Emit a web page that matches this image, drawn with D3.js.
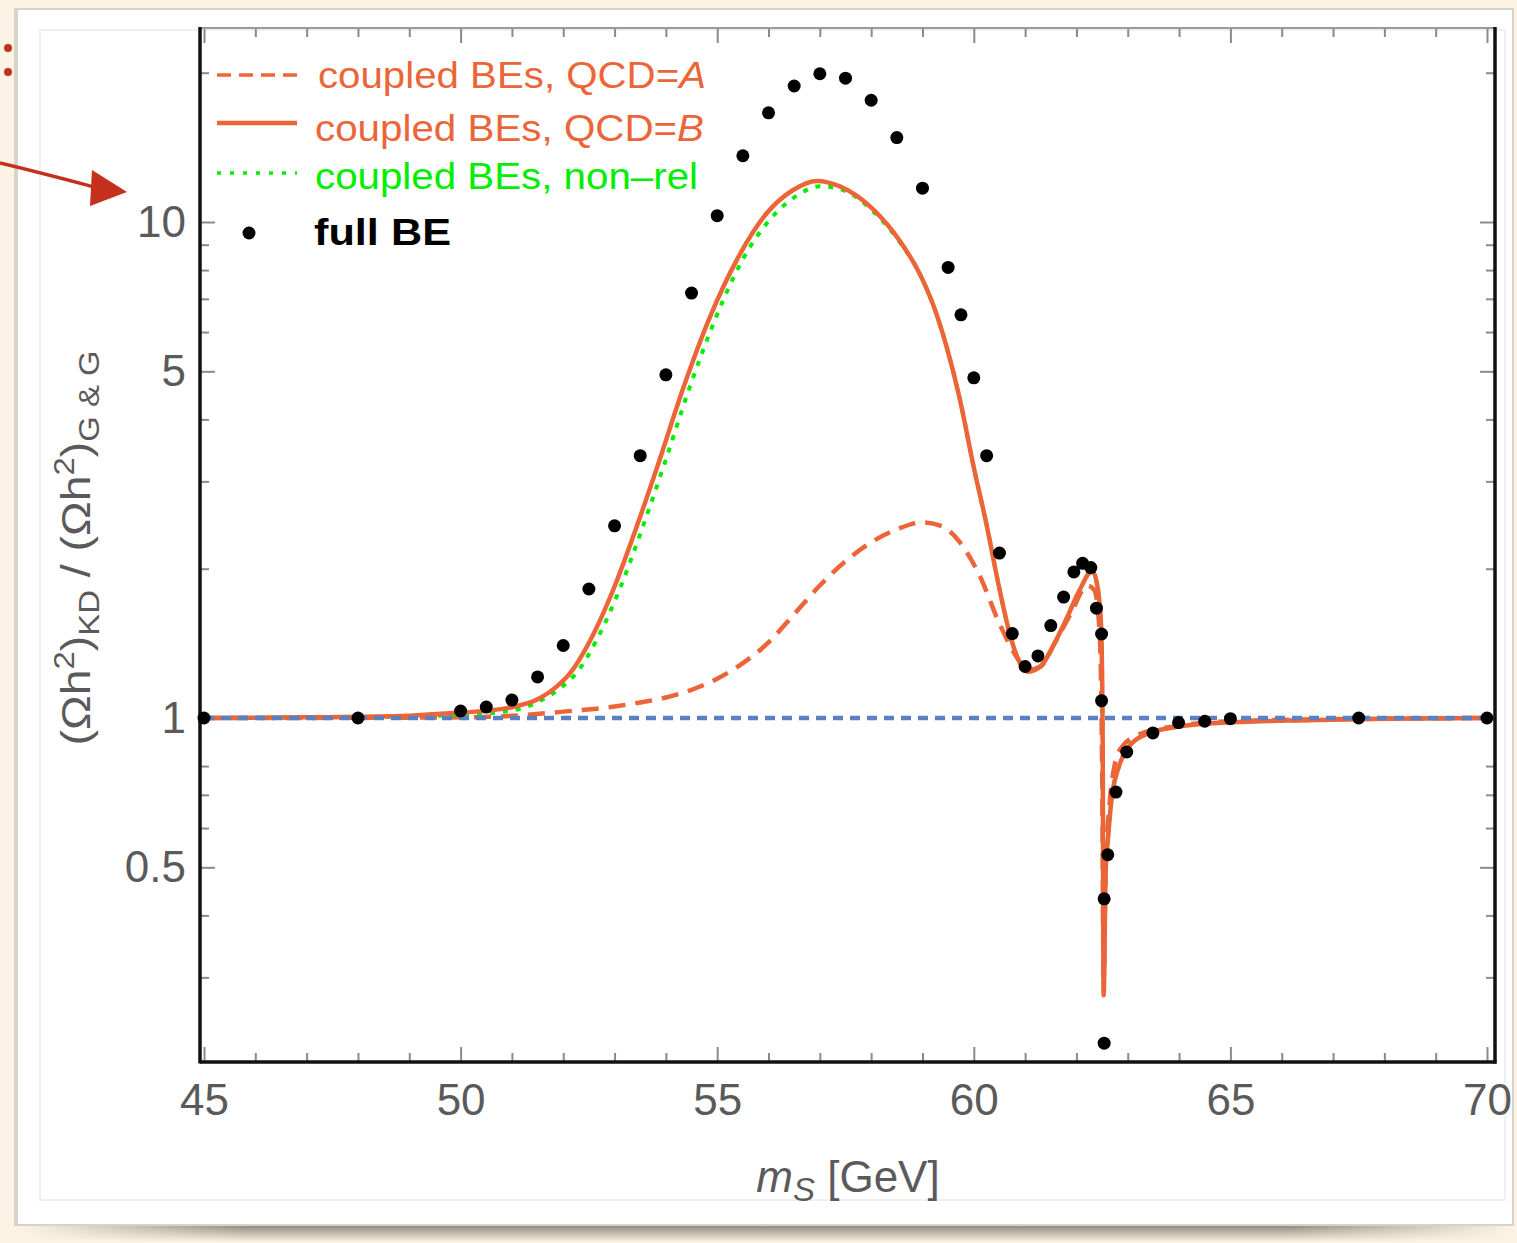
<!DOCTYPE html>
<html><head><meta charset="utf-8">
<script src="https://cdn.jsdelivr.net/npm/d3@7"></script>
<style>
html,body{margin:0;padding:0;background:#fcf3e4;}
svg{display:block;font-family:"Liberation Sans",Arial,Helvetica,sans-serif;}
</style></head>
<body><svg id="chart" width="1517" height="1243"></svg>
<script>
// ---------- data ----------
const dotMass  = [45,48,50,50.5,51,51.5,52,52.5,53,53.5,54,54.5,55,55.5,56,56.5,57,57.5,58,58.5,59,59.5,59.75,60,60.25,60.5,60.75,61,61.25,61.5,61.75,61.95,62.12,62.28,62.39,62.49,62.49,62.61,62.54,62.54,62.77,62.98,63.49,63.99,64.5,65,67.5,70];
const dotRatio = [1.0,1.0,1.033,1.052,1.087,1.21,1.40,1.82,2.44,3.38,4.92,7.19,10.3,13.6,16.6,18.8,19.9,19.5,17.6,14.8,11.7,8.1,6.5,4.85,3.38,2.15,1.48,1.27,1.334,1.536,1.753,1.97,2.05,2.01,1.665,1.477,1.084,0.530,0.432,0.221,0.709,0.854,0.933,0.979,0.985,0.997,1.0,1.0];

const massA  = [45,48,50,51,52,53,53.5,54,54.5,55,55.5,56,56.5,57,57.5,58,58.5,59,59.4,59.7,60.1,60.5,60.85,61.05,61.3,61.6,61.9,62.21,62.35,62.45,62.5,62.53,62.57,62.65,62.74,62.87,63.26,64,65,67,70];
const ratioA = [1.0,1.001,1.003,1.01,1.03,1.055,1.075,1.1,1.14,1.2,1.29,1.42,1.62,1.85,2.07,2.26,2.4,2.48,2.43,2.28,1.95,1.55,1.32,1.25,1.27,1.43,1.63,1.85,1.81,1.5,0.8,0.3,0.5,0.68,0.8,0.87,0.93,0.965,0.985,0.995,1.0];

const massB  = [45,47,49,49.6,50.3,50.9,51.55,51.87,52.13,52.52,52.98,53.43,53.85,54.33,54.86,55.38,55.96,56.48,56.94,57.39,58.04,58.56,58.95,59.21,59.47,59.73,60.0,60.25,60.5,60.73,60.9,61.05,61.3,61.55,61.8,62.05,62.31,62.41,62.48,62.51,62.53,62.57,62.62,62.68,62.83,63.0,63.39,63.97,65,66.5,68,70];
const ratioB = [1.0,1.003,1.01,1.02,1.03,1.047,1.097,1.157,1.23,1.43,1.82,2.43,3.25,4.6,6.44,8.38,10.4,11.6,12.1,11.8,10.6,9.15,7.85,6.8,5.6,4.38,3.2,2.45,1.82,1.44,1.29,1.24,1.27,1.4,1.58,1.8,1.98,1.84,1.54,0.95,0.276,0.49,0.58,0.68,0.8,0.87,0.93,0.96,0.98,0.99,0.997,1.0];

const massNR  = [45,47,49,50,51,51.65,51.98,52.25,52.64,53.1,53.55,53.97,54.45,54.98,55.49,56.06,56.55,57.0,57.45,58.04,58.56,58.95,59.21,59.47,59.73,60.0,60.25,60.5,60.73,60.9,61.05,61.3,61.55,61.8,62.05,62.31,62.41,62.48,62.51,62.53,62.57,62.62,62.68,62.83,63.0,63.39,63.97,65,66.5,68,70];
const ratioNR = [1.0,1.003,1.008,1.015,1.035,1.097,1.157,1.23,1.43,1.82,2.43,3.25,4.6,6.44,8.38,10.2,11.3,11.8,11.6,10.5,9.1,7.85,6.8,5.6,4.38,3.2,2.45,1.82,1.44,1.29,1.24,1.27,1.4,1.58,1.8,1.97,1.84,1.54,0.95,0.28,0.49,0.58,0.68,0.8,0.87,0.93,0.96,0.98,0.99,0.997,1.0];

const refMass  = [45,70];
const refRatio = [1,1];

const xMajorTicks = [45,50,55,60,65,70];
const xMinorTicks = [46,47,48,49,51,52,53,54,56,57,58,59,61,62,63,64,66,67,68,69];
const yMajorTicks = [0.5,1,5,10];
const yMinorTicks = [0.3,0.4,0.6,0.7,0.8,2,3,4,6,7,8,9,20];

const legendLabels = ["coupled BEs, QCD=", "coupled BEs, QCD=", "coupled BEs, non\u2013rel", "full BE"];
const legendItalic = ["A","B","",""];

// ---------- styles ----------
const ORANGE = "#ec6538", GREEN = "#00ee00", BLUE = "#5a80c2", TICK = "#8a8a8a", LABEL = "#5a5a5a";
const frame = {left:200, right:1495, top:28, bottom:1062};

const svg = d3.select("#chart");

// page decoration
const defs = svg.append("defs");
const sg = defs.append("linearGradient").attr("id","shadow").attr("x1",0).attr("y1",0).attr("x2",0).attr("y2",1);
sg.append("stop").attr("offset","0%").attr("stop-color","#77736a");
sg.append("stop").attr("offset","100%").attr("stop-color","#fcf3e4");
const sh = defs.append("linearGradient").attr("id","shadowH").attr("x1",0).attr("y1",0).attr("x2",1).attr("y2",0);
sh.append("stop").attr("offset","0%").attr("stop-color","#fcf3e4");
sh.append("stop").attr("offset","15%").attr("stop-color","#fcf3e4").attr("stop-opacity",0);
sh.append("stop").attr("offset","85%").attr("stop-color","#fcf3e4").attr("stop-opacity",0);
sh.append("stop").attr("offset","100%").attr("stop-color","#fcf3e4");
defs.append("clipPath").attr("id","plotclip").append("rect")
  .attr("x",frame.left).attr("y",frame.top).attr("width",frame.right-frame.left).attr("height",frame.bottom-frame.top);

svg.append("rect").attr("width",1517).attr("height",1243).attr("fill","#fcf3e4");
svg.append("rect").attr("x",20).attr("y",1222).attr("width",1492).attr("height",20).attr("fill","url(#shadow)");
svg.append("rect").attr("x",20).attr("y",1222).attr("width",1492).attr("height",20).attr("fill","url(#shadowH)");
svg.append("rect").attr("x",14).attr("y",8).attr("width",1500).attr("height",1218).attr("fill","#d8d3c8");
svg.append("rect").attr("x",18).attr("y",10).attr("width",1494).attr("height",1214).attr("fill","#ffffff");
svg.append("rect").attr("x",40).attr("y",30).attr("width",1465).attr("height",1170)
  .attr("fill","none").attr("stroke","#ececec").attr("stroke-width",1.5);

// annotation (red marks at top-left)
const red = "#c5301c";
svg.append("circle").attr("cx",8).attr("cy",48).attr("r",4).attr("fill",red);
svg.append("circle").attr("cx",8).attr("cy",72).attr("r",4).attr("fill",red);
svg.append("path").attr("d","M0,163 C30,170 60,178 98,188").attr("stroke",red).attr("stroke-width",3.5).attr("fill","none");
svg.append("path").attr("d","M92,170 L127,192 L90,206 Z").attr("fill",red);

// ---------- scales ----------
const x = d3.scaleLinear().domain([45,70]).range([204,1487]);
const y = d3.scaleLog().domain([1,10]).range([718,222]);

// ---------- axes ----------
function styleAxis(g){
  g.select(".domain").remove();
  g.selectAll(".tick line").attr("stroke",TICK).attr("stroke-width",2);
  g.selectAll(".tick text").attr("fill",LABEL).attr("font-size",44).attr("font-family","Liberation Sans, Arial, sans-serif");
}
svg.append("g").attr("transform",`translate(0,${frame.bottom})`)
  .call(d3.axisBottom(x).tickValues(xMajorTicks).tickSizeInner(-15).tickSizeOuter(0).tickPadding(22).tickFormat(d3.format("d")))
  .call(styleAxis);
svg.append("g").attr("transform",`translate(0,${frame.bottom})`)
  .call(d3.axisBottom(x).tickValues(xMinorTicks).tickSizeInner(-9).tickSizeOuter(0).tickFormat(""))
  .call(styleAxis);
svg.append("g").attr("transform",`translate(0,${frame.top})`)
  .call(d3.axisTop(x).tickValues(xMajorTicks).tickSizeInner(-15).tickSizeOuter(0).tickFormat(""))
  .call(styleAxis);
svg.append("g").attr("transform",`translate(0,${frame.top})`)
  .call(d3.axisTop(x).tickValues(xMinorTicks).tickSizeInner(-9).tickSizeOuter(0).tickFormat(""))
  .call(styleAxis);
svg.append("g").attr("transform",`translate(${frame.left},0)`)
  .call(d3.axisLeft(y).tickValues(yMajorTicks).tickSizeInner(-15).tickSizeOuter(0).tickPadding(14).tickFormat(d => d3.format("")(d)))
  .call(styleAxis);
svg.append("g").attr("transform",`translate(${frame.left},0)`)
  .call(d3.axisLeft(y).tickValues(yMinorTicks).tickSizeInner(-9).tickSizeOuter(0).tickFormat(""))
  .call(styleAxis);
svg.append("g").attr("transform",`translate(${frame.right},0)`)
  .call(d3.axisRight(y).tickValues(yMajorTicks).tickSizeInner(-15).tickSizeOuter(0).tickFormat(""))
  .call(styleAxis);
svg.append("g").attr("transform",`translate(${frame.right},0)`)
  .call(d3.axisRight(y).tickValues(yMinorTicks).tickSizeInner(-9).tickSizeOuter(0).tickFormat(""))
  .call(styleAxis);

// frame
svg.append("line").attr("x1",frame.left).attr("x2",frame.right).attr("y1",frame.top).attr("y2",frame.top).attr("stroke","#9a9a9a").attr("stroke-width",2);
svg.append("line").attr("x1",frame.left).attr("x2",frame.right+1.5).attr("y1",frame.bottom).attr("y2",frame.bottom).attr("stroke","#111").attr("stroke-width",3.5);
svg.append("line").attr("x1",frame.left).attr("x2",frame.left).attr("y1",frame.top-1).attr("y2",frame.bottom+1.5).attr("stroke","#111").attr("stroke-width",3.5);
svg.append("line").attr("x1",frame.right).attr("x2",frame.right).attr("y1",frame.top-1).attr("y2",frame.bottom+1.5).attr("stroke","#111").attr("stroke-width",3.5);

// ---------- series ----------
const plot = svg.append("g").attr("clip-path","url(#plotclip)");
const line = d3.line().x(d => x(d[0])).y(d => y(d[1])).curve(d3.curveMonotoneX);
const zip = (a,b) => a.map((v,i) => [v,b[i]]);

plot.append("path").datum(zip(massA,ratioA)).attr("d",line)
  .attr("fill","none").attr("stroke",ORANGE).attr("stroke-width",4.5).attr("stroke-dasharray","17,10");
plot.append("path").datum(zip(massNR,ratioNR)).attr("d",line)
  .attr("fill","none").attr("stroke",GREEN).attr("stroke-width",4).attr("stroke-dasharray","5,8");
plot.append("path").datum(zip(massB,ratioB)).attr("d",line)
  .attr("fill","none").attr("stroke",ORANGE).attr("stroke-width",4.5);
plot.append("path").datum(zip(refMass,refRatio)).attr("d",d3.line().x(d=>x(d[0])).y(d=>y(d[1])))
  .attr("fill","none").attr("stroke",BLUE).attr("stroke-width",4.5).attr("stroke-dasharray","10,7");
svg.append("g").selectAll("circle").data(zip(dotMass,dotRatio)).join("circle")
  .attr("cx",d => x(d[0])).attr("cy",d => y(d[1])).attr("r",6.5).attr("fill","#000");

// ---------- legend ----------
const legend = svg.append("g");
const legY = [75,123,173,233];
const legTextX = [318,315,315,314];
const legBase = [88,141,189,245];
const legWidth = [388,389,383,137];
legend.append("line").attr("x1",217).attr("x2",297).attr("y1",legY[0]).attr("y2",legY[0])
  .attr("stroke",ORANGE).attr("stroke-width",3.5).attr("stroke-dasharray","14,8");
legend.append("line").attr("x1",217).attr("x2",297).attr("y1",legY[1]).attr("y2",legY[1])
  .attr("stroke",ORANGE).attr("stroke-width",4.5);
legend.append("line").attr("x1",217).attr("x2",297).attr("y1",legY[2]).attr("y2",legY[2])
  .attr("stroke",GREEN).attr("stroke-width",3.5).attr("stroke-dasharray","4,9");
legend.append("circle").attr("cx",249).attr("cy",legY[3]).attr("r",6.5).attr("fill","#000");
const legColors = [ORANGE,ORANGE,GREEN,"#000"];
legendLabels.forEach((lab,i) => {
  const t = legend.append("text").attr("x",legTextX[i]).attr("y",legBase[i])
    .attr("font-size",37).attr("fill",legColors[i])
    .attr("font-weight", i===3 ? "bold" : "normal")
    .attr("textLength",legWidth[i]).attr("lengthAdjust","spacingAndGlyphs");
  t.append("tspan").text(lab);
  if (legendItalic[i]) t.append("tspan").attr("font-style","italic").text(legendItalic[i]);
});

// ---------- axis titles ----------
const xt = svg.append("text").attr("x",848).attr("y",1192).attr("text-anchor","middle")
  .attr("font-size",44).attr("fill",LABEL);
xt.append("tspan").attr("font-style","italic").text("m");
xt.append("tspan").attr("font-style","italic").attr("font-size",33).attr("dy",9).text("S");
xt.append("tspan").attr("dy",-9).text(" [GeV]");

const yt = svg.append("text").attr("transform","translate(90,548) rotate(-90)").attr("text-anchor","middle")
  .attr("font-size",41).attr("fill",LABEL)
  .attr("textLength",395).attr("lengthAdjust","spacingAndGlyphs");
yt.append("tspan").text("(\u03A9h");
yt.append("tspan").attr("font-size",29).attr("dy",-16).text("2");
yt.append("tspan").attr("dy",16).text(")");
yt.append("tspan").attr("font-size",29).attr("dy",9).text("KD");
yt.append("tspan").attr("dy",-9).text(" / (\u03A9h");
yt.append("tspan").attr("font-size",29).attr("dy",-16).text("2");
yt.append("tspan").attr("dy",16).text(")");
yt.append("tspan").attr("font-size",29).attr("dy",9).text("G & G");
</script></body></html>
